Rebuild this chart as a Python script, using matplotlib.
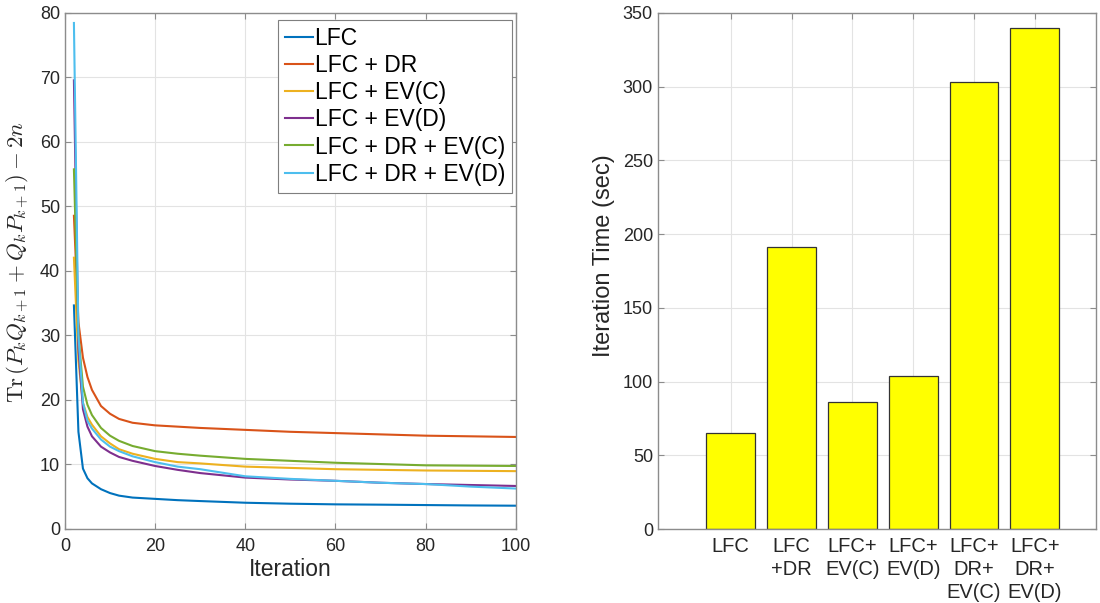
import matplotlib
matplotlib.use("Agg")
import matplotlib.pyplot as plt

plt.rcParams['font.family'] = ['Liberation Sans', 'DejaVu Sans']
plt.rcParams['mathtext.fontset'] = 'cm'

iters = [2, 3, 4, 5, 6, 8, 10, 12, 15, 20, 25, 30, 40, 50, 60, 70, 80, 90, 100]
lfc = [34.6, 15.0, 9.3, 7.8, 7.0, 6.1, 5.5, 5.1, 4.8, 4.6, 4.4, 4.26, 4.0, 3.85, 3.75, 3.7, 3.64, 3.58, 3.54]
lfc_dr = [48.5, 32.0, 26.5, 23.5, 21.5, 19.0, 17.8, 17.0, 16.4, 16.0, 15.8, 15.6, 15.3, 15.0, 14.8, 14.6, 14.4, 14.3, 14.2]
lfc_evc = [42.0, 26.0, 19.5, 17.3, 16.1, 14.3, 13.2, 12.3, 11.6, 10.8, 10.3, 10.1, 9.6, 9.4, 9.2, 9.1, 9.0, 8.95, 8.9]
lfc_evd = [69.5, 28.0, 18.5, 15.8, 14.3, 12.7, 11.8, 11.1, 10.5, 9.7, 9.1, 8.6, 7.9, 7.6, 7.4, 7.1, 6.9, 6.75, 6.6]
lfc_dr_evc = [55.7, 30.0, 22.0, 19.2, 17.6, 15.6, 14.4, 13.6, 12.8, 12.0, 11.6, 11.3, 10.8, 10.5, 10.2, 10.0, 9.8, 9.75, 9.7]
lfc_dr_evd = [78.4, 30.0, 19.5, 16.7, 15.5, 13.8, 12.7, 12.0, 11.2, 10.3, 9.6, 9.2, 8.1, 7.7, 7.4, 7.1, 6.9, 6.5, 6.2]

series_labels = ['LFC', 'LFC + DR', 'LFC + EV(C)', 'LFC + EV(D)', 'LFC + DR + EV(C)', 'LFC + DR + EV(D)']
series_colors = ['#0072BD', '#D95319', '#EDB120', '#7E2F8E', '#77AC30', '#4DBEEE']

bar_labels = ['LFC', 'LFC\n+DR', 'LFC+\nEV(C)', 'LFC+\nEV(D)', 'LFC+\nDR+\nEV(C)', 'LFC+\nDR+\nEV(D)']
bar_times = [65, 191, 86, 104, 303, 340]

fig = plt.figure(figsize=(11, 6.03), dpi=100)
axcol = '#262626'
spcol = '#8c8c8c'

def style(ax):
    for s in ax.spines.values():
        s.set_color(spcol)
        s.set_linewidth(1.0)
    ax.tick_params(direction='in', top=True, right=True, colors=spcol,
                   labelcolor=axcol, labelsize=13, length=4)
    ax.grid(True, color='#e3e3e3', linewidth=0.8)
    ax.set_axisbelow(True)

ax1 = fig.add_axes([0.059, 0.1235, 0.41, 0.8555])
data = [lfc, lfc_dr, lfc_evc, lfc_evd, lfc_dr_evc, lfc_dr_evd]
for vals, lab, col in zip(data, series_labels, series_colors):
    ax1.plot(iters, vals, color=col, linewidth=1.5, label=lab)
ax1.set_xlim(0, 100)
ax1.set_ylim(0, 80)
ax1.set_xticks(range(0, 101, 20))
ax1.set_yticks(range(0, 81, 10))
style(ax1)
ax1.tick_params(axis='x', pad=7)
ax1.set_xlabel('Iteration', fontsize=16.5, color=axcol, labelpad=2)
ax1.set_ylabel(r'$\mathrm{Tr}\,(P_kQ_{k+1}+Q_kP_{k+1})-2n$', fontsize=16.5, color=axcol)
ax1.yaxis.set_label_coords(-0.075, 0.516)
leg = ax1.legend(loc='upper right', bbox_to_anchor=(0.991, 0.9855), borderaxespad=0,
                 fontsize=16.5, handlelength=1.2, handletextpad=0.08,
                 borderpad=0.3, labelspacing=0.18, fancybox=False, framealpha=1)
leg.get_frame().set_edgecolor('#7f7f7f')
leg.get_frame().set_linewidth(0.8)

ax2 = fig.add_axes([0.598, 0.1225, 0.398, 0.856])
pos = list(range(1, len(bar_times) + 1))
ax2.bar(pos, bar_times, width=0.8, color='#FFFF00', edgecolor='#333333', linewidth=0.9)
ax2.set_xlim(-0.2, 7.0)
ax2.set_ylim(0, 350)
ax2.set_yticks(range(0, 351, 50))
ax2.set_xticks(pos)
ax2.set_xticklabels(bar_labels, va='top', linespacing=1.25)
style(ax2)
ax2.tick_params(axis='x', labelsize=14.5, pad=6)
ax2.set_ylabel('Iteration Time (sec)', fontsize=17, color=axcol)
ax2.yaxis.set_label_coords(-0.098, 0.53)

fig.savefig('out.png', dpi=100)
